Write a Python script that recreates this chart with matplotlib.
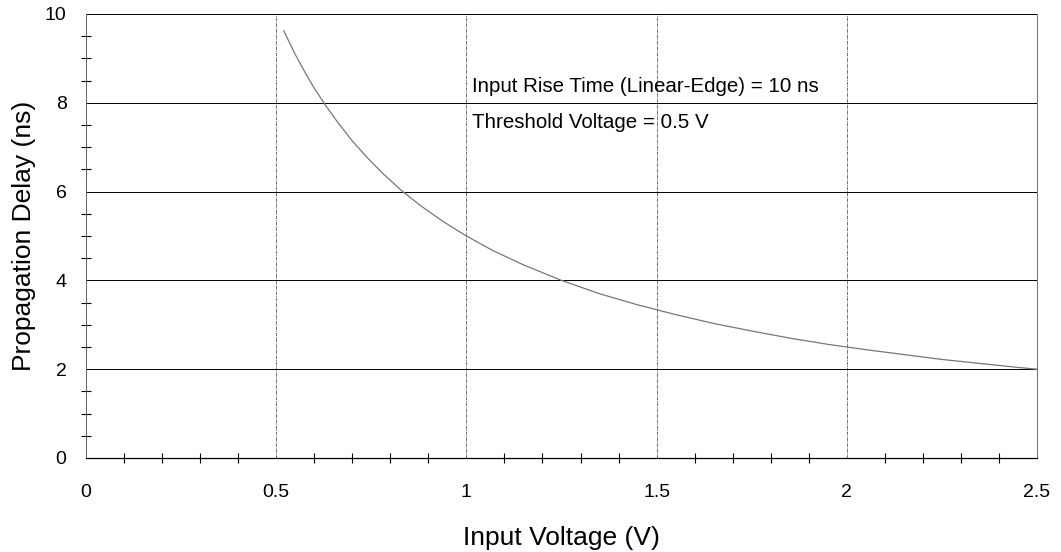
#!/usr/bin/env python3

import numpy as np
import matplotlib.pyplot as plt
from matplotlib.ticker import MultipleLocator

plt.rcParams["font.family"] = ["Liberation Sans", "DejaVu Sans"]

# values
input_voltage = [0.52, 0.55, 0.58, 0.6, 0.63, 0.66, 0.7, 0.74, 0.78, 0.83, 0.88, 0.94, 1.0,
                 1.07, 1.15, 1.25, 1.35, 1.45, 1.55, 1.65, 1.75, 1.85, 1.95, 2.05, 2.15,
                 2.25, 2.35, 2.45, 2.5]
prop_delay = [9.62, 9.09, 8.62, 8.33, 7.94, 7.58, 7.14, 6.76, 6.41, 6.02, 5.68, 5.32, 5.0,
              4.67, 4.35, 4.0, 3.70, 3.45, 3.23, 3.03, 2.86, 2.70, 2.56, 2.44, 2.33,
              2.22, 2.13, 2.04, 2.0]

x_ticks = [0, 0.5, 1, 1.5, 2, 2.5]
x_labels = ["0", "0.5", "1", "1.5", "2", "2.5"]
y_ticks = [0, 2, 4, 6, 8, 10]

fig = plt.figure(figsize = (10.61, 5.52), dpi = 100)
ax = fig.add_axes([86 / 1061, 1 - 458 / 552, 951 / 1061, 444 / 552])

ax.plot(input_voltage, prop_delay, color = "#777777", linewidth = 0.9)

ax.set_xlim(0, 2.5)
ax.set_ylim(0, 10)
ax.set_xticks(x_ticks)
ax.set_xticklabels(x_labels)
ax.set_yticks(y_ticks)
ax.xaxis.set_minor_locator(MultipleLocator(0.1))
ax.yaxis.set_minor_locator(MultipleLocator(0.5))
ax.tick_params(which = "both", direction = "inout", color = "black")
ax.tick_params(which = "major", length = 0, labelsize = 14)
ax.tick_params(axis = "x", which = "major", pad = 19)
ax.tick_params(axis = "y", which = "major", pad = 14)
ax.tick_params(which = "minor", length = 7, width = 0.8)

ax.grid(axis = "y", color = "black", linewidth = 0.7)
ax.grid(axis = "x", color = "#555555", linewidth = 0.6, linestyle = (0, (4, 1, 1, 1)))

ax.spines["top"].set_visible(False)
ax.spines["right"].set_color("#555555")
ax.spines["right"].set_linewidth(0.6)
ax.spines["right"].set_linestyle((0, (4, 1, 1, 1)))
ax.spines["left"].set_color("#666666")
ax.spines["left"].set_linewidth(0.7)
ax.spines["bottom"].set_linewidth(0.9)

ax.text(1.015, 8.36, "Input Rise Time (Linear-Edge) = 10 ns", fontsize = 14.8, va = "center")
ax.text(1.015, 7.55, "Threshold Voltage = 0.5 V", fontsize = 14.8, va = "center")

ax.set_xlabel("Input Voltage (V)", fontsize = 19, labelpad = 18)
ax.set_ylabel("Propagation Delay (ns)", fontsize = 19, labelpad = 6)

fig.savefig("out.png", dpi = 100)
